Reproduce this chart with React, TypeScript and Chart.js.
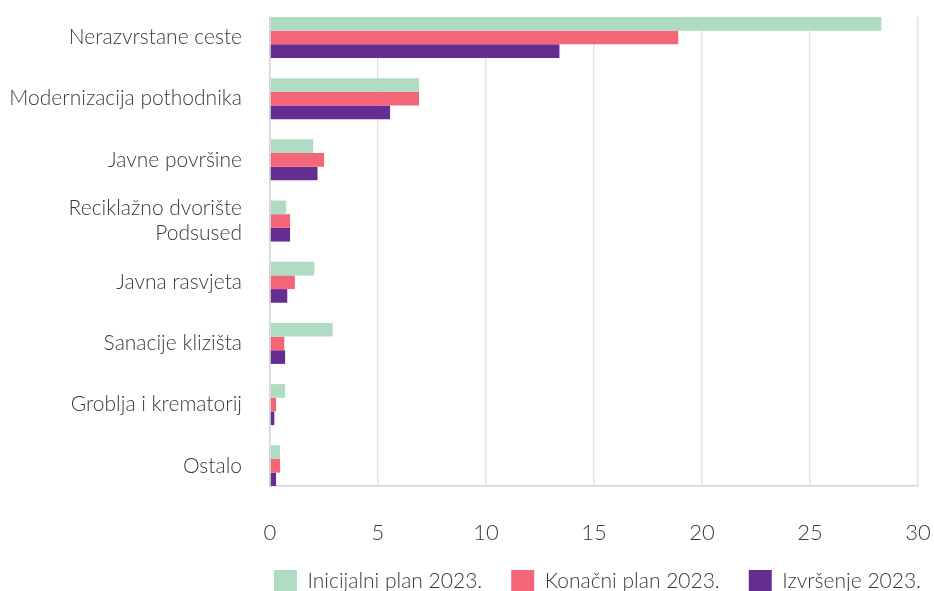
import React, { useEffect, useRef } from "react";
import { Chart, registerables } from "chart.js";

Chart.register(...registerables);

const categories: (string | string[])[] = [
  "Nerazvrstane ceste",
  "Modernizacija pothodnika",
  "Javne površine",
  ["Reciklažno dvorište", "Podsused"],
  "Javna rasvjeta",
  "Sanacije klizišta",
  "Groblja i krematorij",
  "Ostalo",
];

const seriesNames = ["Inicijalni plan 2023.", "Konačni plan 2023.", "Izvršenje 2023."];
const seriesColors = ["#aedbc1", "#f26677", "#662d91"];

const initialPlan = [28.3, 6.9, 2.0, 0.75, 2.05, 2.9, 0.7, 0.46];
const finalPlan = [18.9, 6.9, 2.5, 0.93, 1.15, 0.66, 0.28, 0.47];
const execution = [13.4, 5.56, 2.2, 0.93, 0.8, 0.7, 0.2, 0.28];

const xTicks = [0, 5, 10, 15, 20, 25, 30];

const FONT = "Lato";
const TEXT = "#3a3a3a";
const CANVAS_W = 950;
const CANVAS_H = 602;

export default function App() {
  const ref = useRef<HTMLCanvasElement | null>(null);

  useEffect(() => {
    if (!ref.current) return;
    const all = [initialPlan, finalPlan, execution];
    const chart = new Chart(ref.current, {
      type: "bar",
      data: {
        datasets: all.map((vals, s) => ({
          label: seriesNames[s],
          data: vals.map((v, i) => ({ x: v, y: i })),
          backgroundColor: seriesColors[s],
          borderWidth: 0,
          barPercentage: 1,
          categoryPercentage: 0.67,
        })),
      },
      options: {
        indexAxis: "y",
        animation: false,
        responsive: false,
        events: [],
        layout: { padding: { top: 17, left: 0, right: 0, bottom: 0 } },
        scales: {
          y: {
            type: "linear",
            reverse: true,
            min: -0.335,
            max: 7.33,
            offset: false,
            grid: { display: false, offset: false, drawTicks: false },
            border: { display: true, color: "#d6d6d6", width: 1.5 },
            ticks: {
              stepSize: 1,
              includeBounds: false,
              autoSkip: false,
              padding: 28,
              color: TEXT,
              font: { family: FONT, size: 21, weight: "300" },
              callback: (v: any) => {
                const n = Number(v);
                return Number.isInteger(n) && categories[n] !== undefined ? categories[n] : "";
              },
            },
            afterFit: (scale: any) => {
              scale.width = 270;
              scale.paddingTop = 0;
              scale.paddingBottom = 0;
            },
          },
          x: {
            type: "linear",
            min: xTicks[0],
            max: xTicks[xTicks.length - 1],
            grid: { color: "#e3e3e3", lineWidth: 1.5, drawTicks: false },
            border: { display: true, color: "#d6d6d6", width: 1.5 },
            afterBuildTicks: (scale: any) => {
              scale.ticks = xTicks.map((v) => ({ value: v }));
            },
            ticks: {
              padding: 34,
              color: TEXT,
              font: { family: FONT, size: 22, weight: "300" },
            },
            afterFit: (scale: any) => {
              scale.height = 55;
              scale.paddingLeft = 0;
              scale.paddingRight = CANVAS_W - 918;
            },
          },
        },
        plugins: {
          tooltip: { enabled: false },
          legend: {
            position: "bottom",
            align: "end",
            labels: {
              color: TEXT,
              boxWidth: 23,
              boxHeight: 22,
              padding: 29,
              font: { family: FONT, size: 21, weight: "300" },
            },
          },
        },
      },
    });
    return () => chart.destroy();
  }, []);

  return (
    <div style={{ position: "absolute", left: 0, top: 0, width: 934, height: 591, overflow: "hidden", background: "#fff" }}>
      <canvas ref={ref} width={CANVAS_W} height={CANVAS_H} style={{ display: "block" }} />
    </div>
  );
}
